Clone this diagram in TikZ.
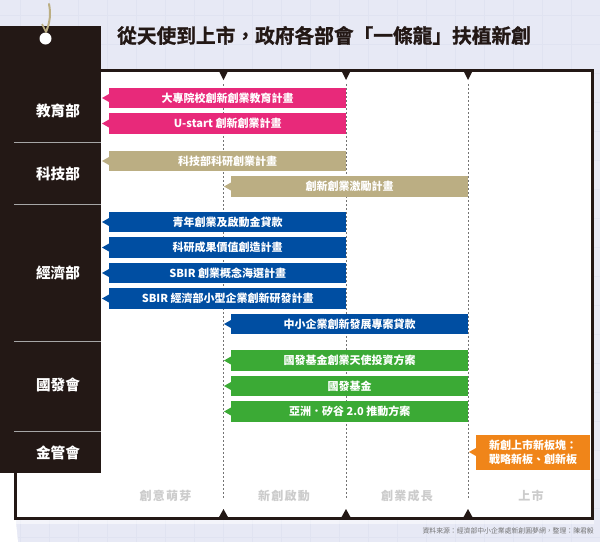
\documentclass[tikz,border=0pt]{standalone}
\usepackage{fontspec}
\setmainfont{Noto Sans CJK TC}
\newfontfamily\titlecjk[FakeBold=1.2]{Noto Sans CJK TC Bold}
\usetikzlibrary{calc, positioning}
\definecolor{paper}{HTML}{E7E9F5}
\definecolor{gridline}{HTML}{E0E3F1}
\definecolor{panel}{HTML}{231815}
\definecolor{eduPink}{HTML}{E8297A}
\definecolor{sciTan}{HTML}{BBAE83}
\definecolor{ecoBlue}{HTML}{004EA2}
\definecolor{ndcGreen}{HTML}{3BAA35}
\definecolor{fscOrange}{HTML}{F08519}
\tikzset{
    bar/.style={anchor=west, minimum height=20.5pt, inner sep=0pt, text=white, font=\fontsize{11pt}{14pt}\bfseries},
    dept/.style={text=white, font=\fontsize{14.6pt}{16pt}\bfseries},
    stage/.style={text=black!20, font=\fontsize{12pt}{14pt}\bfseries\addfontfeature{LetterSpace=10}},
    stagemark/.style={fill=panel},
    stageline/.style={dash pattern=on 2pt off 2pt, line width=0.8pt, black!55},
}
\begin{document}
\begin{tikzpicture}[x=1pt, y=-1pt]
    % Background
    \useasboundingbox (0,0) rectangle (600,542);
    \fill[paper] (0,0) rectangle (600,542);
    \foreach \gx in {20,49,...,600} \draw[gridline, line width=0.4pt] (\gx,0) -- (\gx,542);
    \foreach \gy in {15,44,...,542} \draw[gridline, line width=0.4pt] (0,\gy) -- (600,\gy);
    \fill[white] (0,473) -- (16,473) -- (16,522) -- (18,542) -- (0,542) -- cycle;
    \fill[white, opacity=0.5] (16,519) rectangle (594,524);
    % Frame
    \node (frame) [draw=panel, fill=white, line width=3pt, minimum width=577pt, minimum height=448pt, inner sep=0pt] at (304,294) {};
    % Stage lines
    \foreach \sname/\sx in {seed/223.5, start/346, grow/468} {
        \coordinate (\sname top) at (\sx,84);
        \coordinate (\sname bot) at (\sx,498);
        \draw[stageline] (\sname top) -- (\sname bot);
        \fill[stagemark] (\sx-5,70) -- (\sx+5,70) -- (\sx,80) -- cycle;
        \fill[stagemark] (\sx-5,518) -- (\sx+5,518) -- (\sx,509) -- cycle;
    }
    % Bars
    \foreach \bname/\bx/\by/\bw/\bcol/\btext in {
        edua/109/98/237/eduPink/大專院校創新創業教育計畫,
        edub/109/123.5/237/eduPink/U-start 創新創業計畫,
        scia/109/161/237/sciTan/科技部科研創業計畫,
        scib/231/186.5/237/sciTan/創新創業激勵計畫,
        ecoa/109/222/237/ecoBlue/青年創業及啟動金貸款,
        ecob/109/247.5/237/ecoBlue/科研成果價值創造計畫,
        ecoc/109/273/237/ecoBlue/SBIR 創業概念海選計畫,
        ecod/109/298.5/237/ecoBlue/SBIR 經濟部小型企業創新研發計畫,
        ecoe/231/324/237/ecoBlue/中小企業創新發展專案貸款,
        ndca/231/360.5/237/ndcGreen/國發基金創業天使投資方案,
        ndcb/231/386/237/ndcGreen/國發基金,
        ndcc/231/411.5/237/ndcGreen/亞洲．矽谷 2.0 推動方案} {
        \node (\bname) [bar, fill=\bcol, minimum width=\bw pt] at (\bx,\by) {\btext};
        \fill[\bcol] (\bname.west) ++(0,-4) -- ++(-7,4) -- ++(7,4) -- cycle;
    }
    \node (fsc) [bar, fill=fscOrange, minimum width=114pt, minimum height=35pt, align=left] at (476,452) {新創上市新板塊：\\戰略新板、創新板};
    \fill[fscOrange] (fsc.west) ++(0,-4) -- ++(-7,4) -- ++(7,4) -- cycle;
    % Panel
    \node (panel) [fill=panel, minimum width=101pt, minimum height=447pt, inner sep=0pt, anchor=north west] at (0,26) {};
    \foreach \sy in {142,204,341,431} \draw[black!35, line width=0.6pt] (14,\sy) -- (101,\sy);
    \node (hole) [circle, fill=white, minimum size=12pt, inner sep=0pt] at (45.5,38.5) {};
    \draw[sciTan, line width=2pt, line cap=round] (49,4) .. controls (51,14) and (50,22) .. (46,32);
    \draw[sciTan, line width=1.6pt] (42,24) -- (46,32);
    % Departments
    \node[dept] (edu) at (58,111) {教育部};
    \node[dept] (sci) at (58,174) {科技部};
    \node[dept] (eco) at (58,273) {經濟部};
    \node[dept] (ndc) at (58,385) {國發會};
    \node[dept] (fscd) at (58,453) {金管會};
    % Stages
    \node[stage] (seed) at (165.5,495.5) {創意萌芽};
    \node[stage] (start) at (284,495.5) {新創啟動};
    \node[stage] (grow) at (407,495.5) {創業成長};
    \node[stage] (ipo) at (531,495.5) {上市};
    % Title and source
    \node (title) [anchor=west, inner sep=0pt, text=panel, font=\fontsize{19.7pt}{22pt}\titlecjk] at (117,35.5) {從天使到上市，政府各部會「一條龍」扶植新創};
    \node (source) [anchor=east, inner sep=0pt, text=black!55, font=\fontsize{6.85pt}{8pt}\selectfont] at (594,531) {資料來源：經濟部中小企業處新創圓夢網，整理：陳君毅};
\end{tikzpicture}
\end{document}
